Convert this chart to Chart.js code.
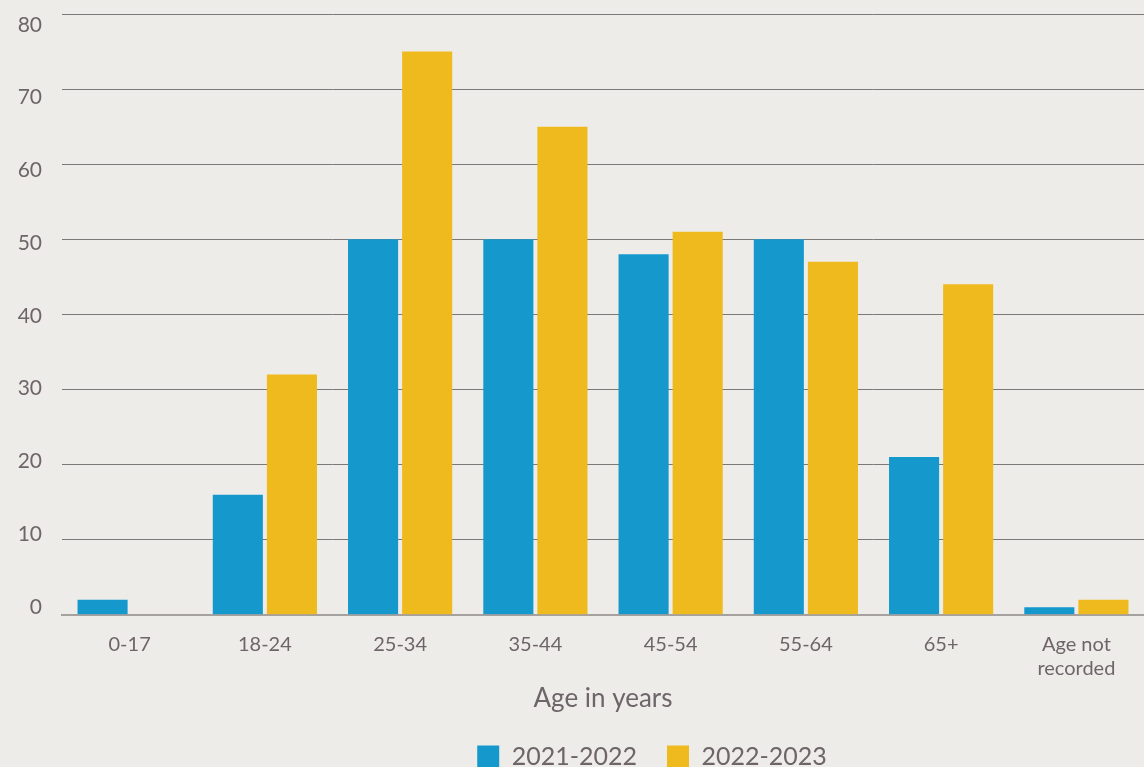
<!DOCTYPE html>
<html>
<head>
<meta charset="utf-8">
<script src="https://cdn.jsdelivr.net/npm/chart.js@4"></script>
<style>
	html, body { margin: 0; padding: 0; background: #eeece9; }
	#wrap { width: 1144px; height: 767px; }
</style>
</head>
<body>
<div id="wrap"><canvas id="chart"></canvas></div>
<script>
/* data */
const ageGroups = ['0-17', '18-24', '25-34', '35-44', '45-54', '55-64', '65+', ['Age not', 'recorded']];
const values2122 = [2, 16, 50, 50, 48, 50, 21, 1];
const values2223 = [0, 32, 75, 65, 51, 47, 44, 2];
const seriesNames = ['2021-2022', '2022-2023'];
const yTicks = [0, 10, 20, 30, 40, 50, 60, 70, 80];

const textColor = '#6e6569';
const fontFamily = 'Lato, "Open Sans", sans-serif';

// legend sits a little right of centre in the original
const legendShift = {
	id: 'legendShift',
	afterLayout: (chart) => {
		if(chart.legend) {
			chart.legend.left += 80;
			chart.legend.right += 80;
		}
	},
};

const setTicks = (scale) => {
	scale.ticks = yTicks.map(value => ({ value }));
};

new Chart(document.getElementById('chart'), {
	type: 'bar',
	data: {
		labels: ageGroups,
		datasets: [
			{
				label: seriesNames[0],
				data: values2122,
				backgroundColor: '#1599cd',
				categoryPercentage: 0.8,
				barPercentage: 0.926,
			},
			{
				label: seriesNames[1],
				data: values2223,
				backgroundColor: '#efba1d',
				categoryPercentage: 0.8,
				barPercentage: 0.926,
			}
		]
	},
	plugins: [legendShift],
	options: {
		responsive: true,
		maintainAspectRatio: false,
		animation: false,
		layout: {
			padding: { top: 14, right: 0, left: 0, bottom: -12 },
		},
		plugins: {
			tooltip: { enabled: false },
			legend: {
				position: 'bottom',
				labels: {
					color: textColor,
					font: { family: fontFamily, size: 25 },
					boxWidth: 22,
					boxHeight: 22,
					padding: 30,
				},
			},
		},
		scales: {
			x: {
				grid: { display: false },
				border: { color: '#a5a19f', width: 2 },
				ticks: {
					color: textColor,
					font: { family: fontFamily, size: 20 },
					padding: 10,
					maxRotation: 0,
				},
				title: {
					display: true,
					text: 'Age in years',
					color: textColor,
					font: { family: fontFamily, size: 26 },
					padding: { top: -8, bottom: 0 },
				},
			},
			// gridlines
			y: {
				min: 0,
				max: 80,
				border: { display: false },
				grid: {
					color: (ctx) => ctx.index === 0 ? 'rgba(0,0,0,0)' : '#7a7878',
					lineWidth: 1,
					drawTicks: false,
				},
				ticks: { display: false, stepSize: 10 },
				afterBuildTicks: setTicks,
				afterFit: (scale) => {
					scale.width = 0;
					scale.paddingTop = 0;
				},
			},
			// labels, spaced a bit tighter than the gridlines as in the original
			yLabels: {
				position: 'left',
				min: -1.1,
				max: 81.5,
				border: { display: false },
				grid: { display: false, drawTicks: false },
				ticks: {
					color: textColor,
					font: { family: fontFamily, size: 21 },
					padding: 20,
				},
				afterBuildTicks: setTicks,
				afterFit: (scale) => {
					scale.width = 62;
					scale.paddingTop = 0;
					scale.paddingBottom = 0;
				},
			},
		},
	},
});
</script>
</body>
</html>
